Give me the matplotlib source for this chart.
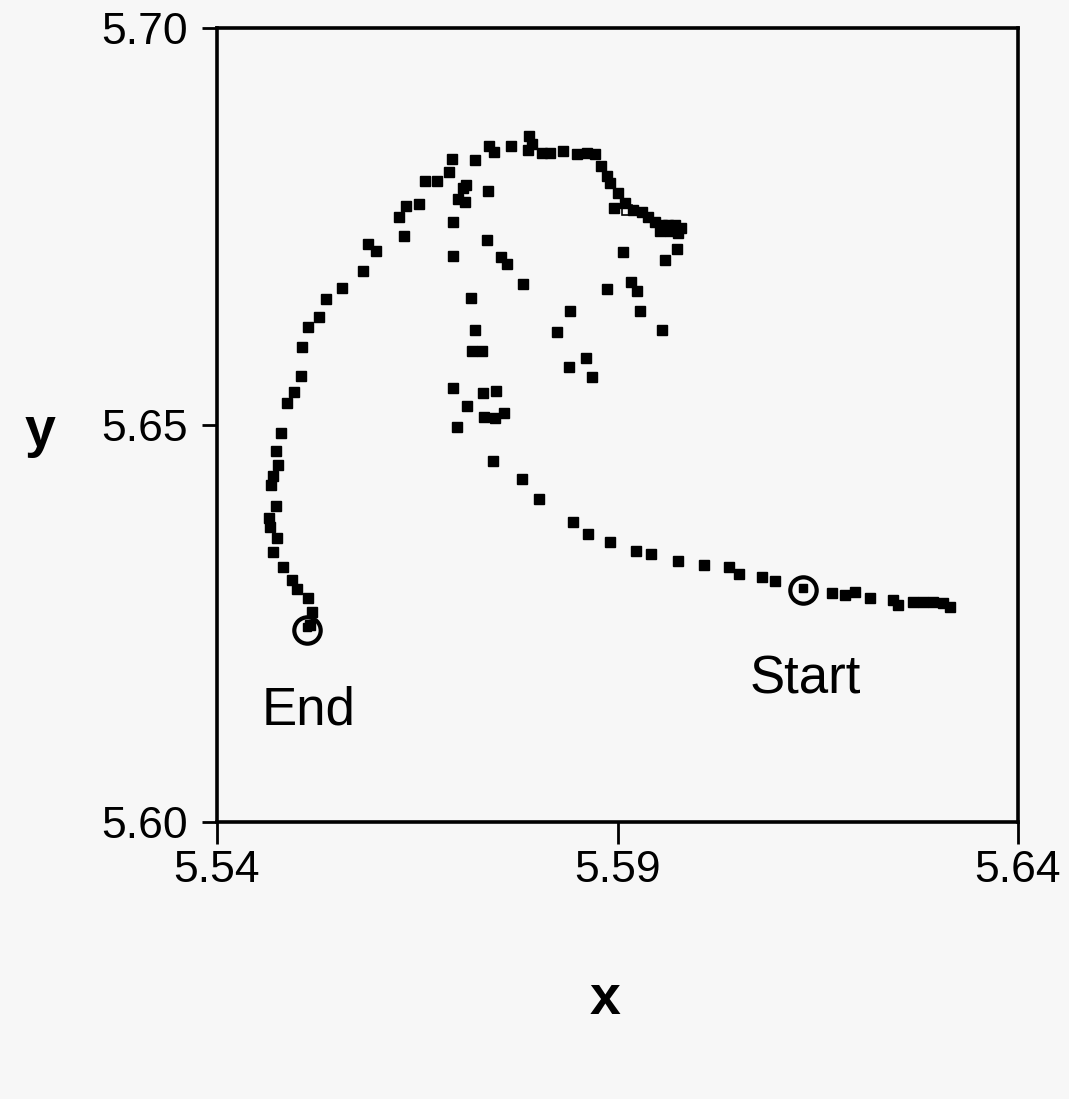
import matplotlib
matplotlib.use("Agg")
import matplotlib.pyplot as plt

plt.rcParams['font.family'] = ['Liberation Sans', 'DejaVu Sans']

# trajectory points (data units)
xs = [
    5.6315, 5.6306, 5.6294, 5.6281, 5.6269, 5.6250, 5.6244, 5.6215, 5.6197, 5.6184, 5.6168,
    5.6097, 5.6080, 5.6052, 5.6039, 5.6008, 5.5976, 5.5942, 5.5923, 5.5891, 5.5863, 5.5844,
    5.5802, 5.5781, 5.5745,
    5.5695, 5.5712, 5.5700, 5.5732, 5.5748, 5.5733, 5.5747, 5.5758,
    5.5718, 5.5731, 5.5722, 5.5717, 5.5695, 5.5695, 5.5701, 5.5710, 5.5711, 5.5707,
    5.5738, 5.5737, 5.5755, 5.5762, 5.5782,
    5.5841, 5.5824, 5.5861, 5.5839, 5.5868,
    5.5887, 5.5917, 5.5924, 5.5928, 5.5956, 5.5907, 5.5959, 5.5974, 5.5896,
    5.5790, 5.5793, 5.5788, 5.5806, 5.5816, 5.5832, 5.5849, 5.5862, 5.5872, 5.5879,
    5.5887, 5.5891, 5.5901, 5.5909, 5.5919, 5.5931, 5.5938,
    5.5947, 5.5956, 5.5963, 5.5972, 5.5979, 5.5953, 5.5966, 5.5976,
    5.5767, 5.5740, 5.5746, 5.5722, 5.5693, 5.5690, 5.5660, 5.5675, 5.5652, 5.5636,
    5.5627, 5.5633, 5.5589, 5.5598, 5.5582, 5.5556, 5.5536, 5.5527, 5.5514, 5.5506,
    5.5505, 5.5496, 5.5487, 5.5480, 5.5474, 5.5476, 5.5470, 5.5467, 5.5474, 5.5465,
    5.5466, 5.5475, 5.5470, 5.5482, 5.5494, 5.5500, 5.5514, 5.5519, 5.5516,
]
ys = [
    5.6271, 5.6276, 5.6277, 5.6277, 5.6277, 5.6273, 5.6280, 5.6282, 5.6290, 5.6286, 5.6288,
    5.6304, 5.6309, 5.6312, 5.6321, 5.6324, 5.6329, 5.6338, 5.6341, 5.6353, 5.6363, 5.6378,
    5.6407, 5.6432, 5.6455,
    5.6547, 5.6524, 5.6497, 5.6540, 5.6543, 5.6510, 5.6509, 5.6515,
    5.6593, 5.6593, 5.6620, 5.6660, 5.6713, 5.6756, 5.6785, 5.6781, 5.6802, 5.6798,
    5.6795, 5.6733, 5.6712, 5.6703, 5.6678,
    5.6644, 5.6617, 5.6584, 5.6573, 5.6560,
    5.6671, 5.6680, 5.6669, 5.6644, 5.6620, 5.6718, 5.6708, 5.6722, 5.6773,
    5.6864, 5.6854, 5.6846, 5.6843, 5.6843, 5.6845, 5.6841, 5.6843, 5.6841, 5.6826,
    5.6814, 5.6805, 5.6792, 5.6780, 5.6771, 5.6768, 5.6762,
    5.6756, 5.6752, 5.6752, 5.6752, 5.6748, 5.6744, 5.6744, 5.6742,
    5.6851, 5.6851, 5.6844, 5.6834, 5.6835, 5.6819, 5.6807, 5.6807, 5.6778, 5.6776,
    5.6762, 5.6738, 5.6728, 5.6719, 5.6694, 5.6673, 5.6659, 5.6636, 5.6623, 5.6598,
    5.6562, 5.6542, 5.6528, 5.6490, 5.6467, 5.6450, 5.6436, 5.6424, 5.6398, 5.6383,
    5.6372, 5.6358, 5.6340, 5.6321, 5.6305, 5.6293, 5.6282, 5.6264, 5.6248,
]

# hollow-square point
open_x = [5.5912]
open_y = [5.6771]

# circled start / end points
start_x, start_y = 5.6132, 5.6292
end_x, end_y = 5.5512, 5.6242
start_label = "Start"
end_label = "End"

xticks = [5.54, 5.59, 5.64]
yticks = [5.60, 5.65, 5.70]
xtick_labels = ["5.54", "5.59", "5.64"]
ytick_labels = ["5.60", "5.65", "5.70"]

bg = '#f7f7f7'
fig = plt.figure(figsize=(10.69, 10.99), dpi=100, facecolor=bg)
ax = fig.add_axes([217/1069, 1-822/1099, (1018-217)/1069, (822-28)/1099])
ax.set_facecolor(bg)

ax.plot(xs, ys, linestyle='none', marker='s', markersize=6.8, color='black')
ax.plot(open_x, open_y, linestyle='none', marker='s', markersize=6.8,
        markerfacecolor='none', markeredgecolor='black', markeredgewidth=1.2)
ax.plot([start_x, end_x], [start_y, end_y], linestyle='none', marker='o', markersize=19,
        markerfacecolor='none', markeredgecolor='black', markeredgewidth=3.0)
ax.plot([start_x, end_x], [start_y + 0.0003, end_y + 0.0003], linestyle='none', marker='s',
        markersize=6, color='black')

ax.text(5.5514, 5.6141, end_label, ha='center', va='center', fontsize=38)
ax.text(5.6135, 5.6180, start_label, ha='center', va='center', fontsize=38)

ax.set_xlim(5.54, 5.64)
ax.set_ylim(5.60, 5.70)
ax.set_xticks(xticks)
ax.set_xticklabels(xtick_labels)
ax.set_yticks(yticks)
ax.set_yticklabels(ytick_labels)
ax.tick_params(axis='both', direction='out', length=11, width=2, labelsize=32, color='black')
ax.tick_params(axis='x', pad=4, length=16)
ax.tick_params(axis='y', pad=10)
for s in ax.spines.values():
    s.set_linewidth(2.6)

fig.text(605/1069, 1-1000/1099, 'x', ha='center', va='center', fontsize=40, fontweight='bold')
fig.text(40/1069, 1-432/1099, 'y', ha='center', va='center', fontsize=40, fontweight='bold')

fig.savefig('out.png', dpi=100, facecolor=bg)
